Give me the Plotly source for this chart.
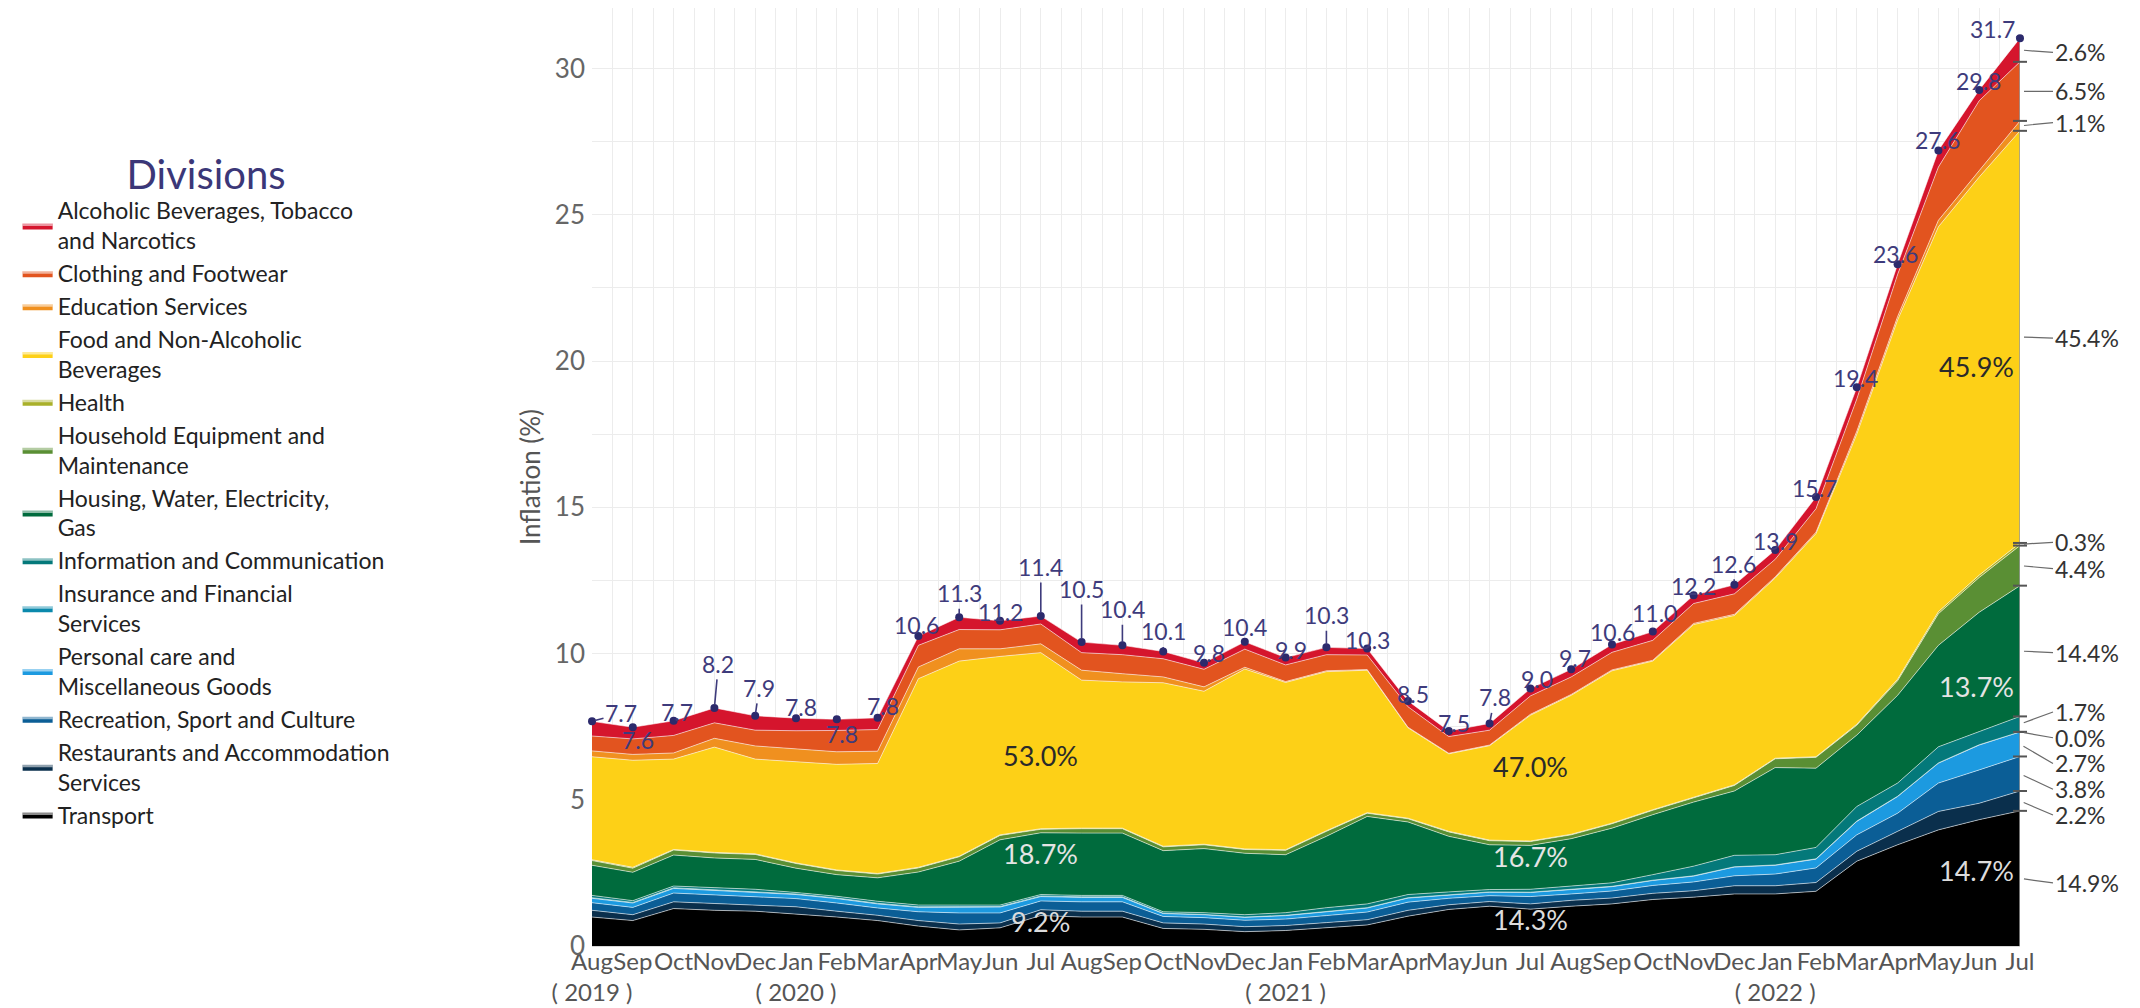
import numpy as np
import plotly.graph_objects as go

# ---------------- DATA ----------------
month_labels = ["Aug", "Sep", "Oct", "Nov", "Dec", "Jan", "Feb", "Mar", "Apr", "May", "Jun", "Jul"] * 3
year_tick_pos = [0, 5, 17, 29]
year_tick_text = ["2019", "2020", "2021", "2022"]

divisions = [
    "Alcoholic Beverages, Tobacco<br>and Narcotics",
    "Clothing and Footwear",
    "Education Services",
    "Food and Non-Alcoholic<br>Beverages",
    "Health",
    "Household Equipment and<br>Maintenance",
    "Housing, Water, Electricity,<br>Gas",
    "Information and Communication",
    "Insurance and Financial<br>Services",
    "Personal care and<br>Miscellaneous Goods",
    "Recreation, Sport and Culture",
    "Restaurants and Accommodation<br>Services",
    "Transport",
]

alcoholic = [0.50, 0.40, 0.50, 0.51, 0.49, 0.43, 0.38, 0.40, 0.32, 0.42, 0.31, 0.27,
             0.36, 0.32, 0.25, 0.22, 0.25, 0.25, 0.25, 0.22, 0.20, 0.19, 0.23, 0.25,
             0.26, 0.27, 0.30, 0.28, 0.31, 0.32, 0.40, 0.40, 0.35, 0.57, 0.37, 0.81]
clothing = [0.51, 0.53, 0.60, 0.53, 0.54, 0.63, 0.73, 0.74, 0.74, 0.66, 0.65, 0.68,
            0.60, 0.65, 0.62, 0.60, 0.62, 0.57, 0.55, 0.50, 0.70, 0.57, 0.51, 0.63,
            0.60, 0.60, 0.68, 0.68, 0.70, 0.60, 0.80, 1.10, 1.44, 1.82, 2.40, 2.02]
education = [0.20, 0.20, 0.21, 0.30, 0.45, 0.42, 0.43, 0.42, 0.40, 0.42, 0.26, 0.30,
             0.34, 0.28, 0.20, 0.15, 0.06, 0.03, 0.03, 0.02, 0.02, 0.02, 0.02, 0.03,
             0.03, 0.03, 0.03, 0.04, 0.04, 0.04, 0.05, 0.10, 0.12, 0.22, 0.21, 0.34]
food = [3.52, 3.66, 3.09, 3.60, 3.24, 3.47, 3.61, 3.76, 6.45, 6.67, 6.10, 6.02,
        5.06, 5.00, 5.59, 5.23, 6.15, 5.72, 5.44, 4.87, 3.09, 2.65, 3.23, 4.30,
        4.75, 5.21, 5.08, 5.91, 5.79, 6.16, 7.63, 9.92, 12.28, 13.16, 13.61, 14.09]
health = [0.03, 0.03, 0.02, 0.02, 0.02, 0.02, 0.02, 0.02, 0.02, 0.02, 0.02, 0.02,
          0.02, 0.02, 0.02, 0.02, 0.02, 0.02, 0.02, 0.02, 0.02, 0.02, 0.02, 0.02,
          0.02, 0.02, 0.02, 0.02, 0.02, 0.02, 0.02, 0.03, 0.05, 0.07, 0.08, 0.09]
household = [0.16, 0.14, 0.17, 0.17, 0.17, 0.16, 0.14, 0.13, 0.14, 0.15, 0.15, 0.12,
             0.15, 0.15, 0.13, 0.13, 0.13, 0.15, 0.17, 0.11, 0.11, 0.15, 0.14, 0.13,
             0.13, 0.15, 0.15, 0.14, 0.19, 0.30, 0.37, 0.34, 0.50, 1.08, 1.19, 1.37]
housing = [1.03, 0.97, 1.06, 1.02, 1.02, 0.83, 0.74, 0.80, 1.13, 1.50, 2.23, 2.11,
           2.13, 2.13, 2.09, 2.19, 2.10, 1.98, 2.44, 2.99, 2.48, 1.90, 1.53, 1.50,
           1.63, 1.87, 2.05, 2.19, 2.20, 2.98, 2.71, 2.44, 3.00, 3.47, 4.08, 4.47]
information = [0.08, 0.06, 0.06, 0.07, 0.07, 0.05, 0.06, 0.07, 0.06, 0.05, 0.05, 0.05,
               0.05, 0.05, 0.05, 0.06, 0.08, 0.09, 0.13, 0.13, 0.11, 0.09, 0.08, 0.10,
               0.11, 0.12, 0.19, 0.33, 0.39, 0.35, 0.39, 0.50, 0.45, 0.55, 0.45, 0.53]
insurance = [0.02, 0.02, 0.02, 0.02, 0.02, 0.02, 0.02, 0.02, 0.02, 0.02, 0.02, 0.02,
             0.02, 0.02, 0.01, 0.01, 0.01, 0.01, 0.01, 0.01, 0.01, 0.01, 0.01, 0.01,
             0.01, 0.01, 0.01, 0.01, 0.01, 0.01, 0.01, 0.01, 0.01, 0.01, 0.01, 0.00]
personal_care = [0.15, 0.15, 0.16, 0.15, 0.15, 0.14, 0.15, 0.14, 0.15, 0.20, 0.20, 0.15,
                 0.15, 0.15, 0.10, 0.10, 0.10, 0.12, 0.13, 0.14, 0.14, 0.12, 0.12, 0.14,
                 0.14, 0.15, 0.17, 0.20, 0.30, 0.30, 0.30, 0.46, 0.57, 0.68, 0.85, 0.84]
recreation = [0.26, 0.25, 0.30, 0.30, 0.30, 0.28, 0.28, 0.25, 0.30, 0.38, 0.34, 0.30,
              0.32, 0.32, 0.22, 0.22, 0.22, 0.22, 0.24, 0.26, 0.28, 0.22, 0.20, 0.25,
              0.22, 0.24, 0.27, 0.30, 0.34, 0.40, 0.50, 0.56, 0.62, 0.97, 1.14, 1.18]
restaurants = [0.23, 0.20, 0.23, 0.23, 0.21, 0.24, 0.20, 0.18, 0.19, 0.20, 0.17, 0.20,
               0.20, 0.20, 0.19, 0.18, 0.17, 0.17, 0.18, 0.18, 0.20, 0.16, 0.16, 0.18,
               0.20, 0.20, 0.21, 0.22, 0.28, 0.28, 0.30, 0.34, 0.46, 0.63, 0.56, 0.68]
transport = [0.99, 0.87, 1.28, 1.22, 1.19, 1.10, 0.99, 0.87, 0.68, 0.55, 0.62, 1.04,
             0.99, 0.99, 0.60, 0.57, 0.49, 0.53, 0.62, 0.72, 1.02, 1.25, 1.36, 1.26,
             1.36, 1.44, 1.59, 1.67, 1.78, 1.78, 1.87, 2.90, 3.46, 3.97, 4.32, 4.62]

# printed headline inflation for each month
totals_printed = [7.7, 7.6, 7.7, 8.2, 7.9, 7.8, 7.8, 7.8, 10.6, 11.3, 11.2, 11.4,
                  10.5, 10.4, 10.1, 9.8, 10.4, 9.9, 10.3, 10.3, 8.5, 7.5, 7.8, 9.0,
                  9.7, 10.6, 11.0, 12.2, 12.6, 13.9, 15.7, 19.4, 23.6, 27.6, 29.8, 31.7]

# shares (%) at the last month, legend order
final_shares = [2.6, 6.5, 1.1, 45.4, 0.3, 4.4, 14.4, 1.7, 0.0, 2.7, 3.8, 2.2, 14.9]

# shares printed inside the areas (Jul 2020, Jul 2021, Jul 2022)
inside_months = [11, 23, 35]
food_share = [53.0, 47.0, 45.9]
housing_share = [18.7, 16.7, 13.7]
transport_share = [9.2, 14.3, 14.7]

# ---------------- STYLE ----------------
colors = ["#d5152d", "#e2541f", "#f0901f", "#fdd017", "#a9b02a", "#5a8f34",
          "#006b3d", "#04797a", "#0b89ac", "#1c9ae0", "#0b5e96", "#0a2f4c", "#000000"]
FONT = "Lato"
TXT_BLUE = "#3e3b7c"

series = [alcoholic, clothing, education, food, health, household, housing,
          information, insurance, personal_care, recreation, restaurants, transport]

x = list(range(len(month_labels)))
fig = go.Figure()

# stack from the bottom (Transport) upwards
for name, vals, col in zip(divisions[::-1], series[::-1], colors[::-1]):
    fig.add_trace(go.Scatter(
        x=x, y=vals, name=name, stackgroup="one", mode="lines",
        line=dict(width=1, color="rgba(255,255,255,0.55)"),
        fillcolor=col, hoverinfo="x+y+name",
    ))

stack = np.array(series[::-1])           # bottom -> top
cum = np.cumsum(stack, axis=0)
total = cum[-1]
last = len(x) - 1

# right edge line
fig.add_trace(go.Scatter(x=[last, last], y=[0, total[last]], mode="lines",
                         line=dict(color="#9a9a9a", width=1.5), showlegend=False,
                         hoverinfo="skip", cliponaxis=False))
# boundary ticks at the right edge
fig.add_trace(go.Scatter(x=[last] * (len(series) - 1), y=cum[:-1, last], mode="markers",
                         marker=dict(symbol="line-ew", size=10,
                                     line=dict(width=2, color="#555555")),
                         showlegend=False, hoverinfo="skip", cliponaxis=False))
# total markers
fig.add_trace(go.Scatter(x=x, y=total, mode="markers",
                         marker=dict(size=8, color="#2c2a6c"), showlegend=False,
                         hoverinfo="skip", cliponaxis=False))

annotations = []
# total labels (pixel offsets of label from its point)
label_dx = [29, 5, 3, 4, 4, 5, 5, 5, -2, 0, 0, 0,
            0, 0, 0, 5, 0, 5, 0, 0, 5, 5, 5, 7,
            4, 0, 2, 0, -1, 0, -2, -1, -2, -1, -1, -28]
label_dy = [-8, 13, -9, -44, -28, -11, 15, -12, -11, -24, -9, -49,
            -53, -36, -20, -10, -15, -8, -32, -9, -7, -8, -26, -10,
            -11, -12, -19, -9, -21, -9, -9, -9, -10, -10, -9, -9]
for i in x:
    annotations.append(dict(
        x=i, y=total[i], xref="x", yref="y", text=f"{totals_printed[i]:.1f}",
        showarrow=True, arrowhead=0, arrowwidth=1.6, arrowcolor=TXT_BLUE,
        ax=label_dx[i], ay=label_dy[i], standoff=3,
        font=dict(family=FONT, size=23, color=TXT_BLUE),
    ))

# right-side share labels (label y positions, repelled)
right_label_y = [30.55, 29.22, 28.15, 20.78, 13.80, 12.90, 10.03, 8.00, 7.12, 6.24, 5.36, 4.48, 2.16]
top_down_cum = cum[::-1, last]            # top of each layer, legend order
bottoms = np.append(top_down_cum[1:], 0)
mids = (top_down_cum + bottoms) / 2
for share, ym, yl in zip(final_shares, mids, right_label_y):
    annotations.append(dict(
        x=last, y=ym, xref="x", yref="y", text=f"{share:.1f}%",
        showarrow=True, arrowhead=0, arrowwidth=1.2, arrowcolor="#6a6a6a",
        axref="pixel", ax=33, ayref="y", ay=yl, standoff=4, xanchor="left",
        font=dict(family=FONT, size=23, color="#333333"),
    ))

# shares inside the areas
inside_y = {"food": [6.5, 6.13, 19.8], "housing": [3.15, 3.06, 8.86], "transport": [0.83, 0.92, 2.58]}
for k, m in enumerate(inside_months):
    anchor = "right" if m == last else "center"
    shift = -4 if m == last else 0
    for key, share, col in [("food", food_share, "#2a2a2a"),
                            ("housing", housing_share, "#e4e4e4"),
                            ("transport", transport_share, "#dcdcdc")]:
        annotations.append(dict(
            x=m, y=inside_y[key][k], xref="x", yref="y", text=f"{share[k]:.1f}%",
            showarrow=False, xanchor=anchor, xshift=shift,
            font=dict(family=FONT, size=27, color=col),
        ))

ticktext = []
for i, m in enumerate(month_labels):
    if i in year_tick_pos:
        ticktext.append(f"{m}<br>( {year_tick_text[year_tick_pos.index(i)]} )")
    else:
        ticktext.append(m)

fig.update_layout(
    width=2140, height=1008,
    margin=dict(l=584, r=128, t=0, b=70, autoexpand=False),
    paper_bgcolor="white", plot_bgcolor="white",
    font=dict(family=FONT, color="#444444"),
    showlegend=True,
    legend=dict(
        title=dict(text="Divisions", side="top center",
                   font=dict(family=FONT, size=40, color="#3b3778")),
        font=dict(family=FONT, size=23, color="#222222"),
        traceorder="reversed", xref="container", yref="container",
        x=0.0045, y=0.872, xanchor="left", yanchor="top",
        bgcolor="rgba(0,0,0,0)", itemsizing="constant", maxheight=950,
    ),
    xaxis=dict(
        range=[0, last], tickmode="array", tickvals=x, ticktext=ticktext,
        tickangle=0, showgrid=True, gridcolor="#ececec", gridwidth=1,
        minor=dict(dtick=0.5, tick0=0, showgrid=True, gridcolor="#ececec"),
        zeroline=False, showline=False, ticks="", ticklabelstandoff=-1,
        tickfont=dict(family=FONT, size=24, color="#555555"), automargin=False,
    ),
    yaxis=dict(
        range=[0, 32.07], dtick=5, tick0=0, showgrid=True, gridcolor="#ececec",
        minor=dict(dtick=2.5, tick0=0, showgrid=True, gridcolor="#ececec"),
        zeroline=True, zerolinecolor="#d8d8d8", showline=False, ticks="",
        ticklabelstandoff=6,
        tickfont=dict(family=FONT, size=26, color="#666666"),
        title=dict(text="Inflation (%)", standoff=6,
                   font=dict(family=FONT, size=26, color="#555555")),
        automargin=False,
    ),
    annotations=annotations,
)

fig.write_html("out.html")
